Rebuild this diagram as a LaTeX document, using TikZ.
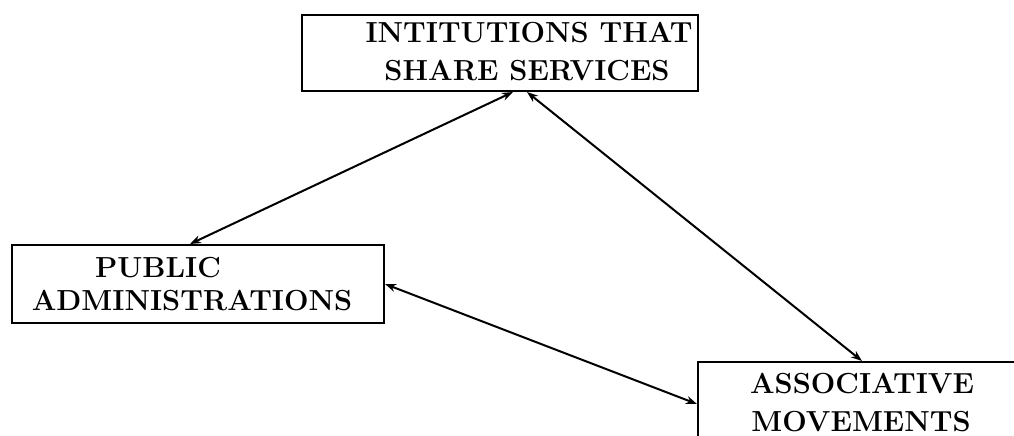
\documentclass[tikz,border=0pt]{standalone}
\usetikzlibrary{arrows.meta,calc}
\begin{document}
\begin{tikzpicture}[x=1pt,y=-1pt,
  box/.style={draw,line width=2pt,rectangle,inner sep=0pt},
  lbl/.style={anchor=base,inner sep=0pt,font=\fontsize{29}{34}\selectfont\bfseries},
  link/.style={line width=2pt,{Stealth[length=11pt,width=8pt]}-{Stealth[length=11pt,width=8pt]}}]
\useasboundingbox (0,0) rectangle (1014,436);
\clip (0,0) rectangle (1014,436);
\node[box,minimum width=396pt,minimum height=76pt] (top) at (500,53) {};
\node[box,minimum width=372pt,minimum height=78pt] (pub) at (198,284) {};
\node[box,minimum width=332pt,minimum height=98pt] (ass) at (864,411) {};
\node[lbl] (t1) at (529,43) {INTITUTIONS THAT};
\node[lbl] (t2) at (527,80) {SHARE SERVICES};
\node[lbl] (p1) at (158,277) {PUBLIC};
\node[lbl] (p2) at (192,310) {ADMINISTRATIONS};
\node[lbl] (a1) at (862,393) {ASSOCIATIVE};
\node[lbl] (a2) at (861,431) {MOVEMENTS};
\draw[link] ([xshift=13pt]top.south) -- ([xshift=-8pt]pub.north);
\draw[link] ([xshift=27pt]top.south) -- ([xshift=-2pt]ass.north);
\draw[link] (pub.east) -- ([yshift=7pt]ass.west);
\end{tikzpicture}
\end{document}
